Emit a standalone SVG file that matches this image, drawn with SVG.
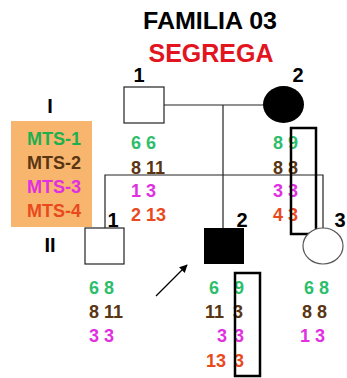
<svg xmlns="http://www.w3.org/2000/svg" width="347" height="378" viewBox="0 0 347 378">
<style>
text{font-family:"Liberation Sans",Arial,sans-serif;font-weight:bold}
.num{font-size:20px;fill:#000}
.al{font-size:18px}
.g{fill:#2DBE6C}.b{fill:#5A3512}.m{fill:#E030E0}.o{fill:#E84A1E}
.lg{fill:#1DB04E}
.ln{stroke:#222;stroke-width:1.2;fill:none}
.hl{fill:none;stroke:#000;stroke-width:2.5}
</style>
<defs>
<marker id="ah" viewBox="0 0 10 10" refX="9" refY="5" markerWidth="8" markerHeight="8" orient="auto-start-reverse" markerUnits="userSpaceOnUse">
<path d="M0,0 L10,5 L0,10 z" fill="#000"/>
</marker>
</defs>
<rect width="347" height="378" fill="#fff"/>
<g id="title">
<text x="210" y="29" text-anchor="middle" font-size="23" textLength="134" lengthAdjust="spacingAndGlyphs" fill="#000">FAMILIA 03</text>
<text x="211" y="62" text-anchor="middle" font-size="25" fill="#E2141E">SEGREGA</text>
</g>
<g id="legend">
<rect x="11" y="121" width="81" height="106" fill="#F8B56E"/>
<text x="54" y="145" text-anchor="middle" font-size="18" class="lg">MTS-1</text>
<text x="54" y="169" text-anchor="middle" font-size="18" class="b">MTS-2</text>
<text x="54" y="193" text-anchor="middle" font-size="18" class="m">MTS-3</text>
<text x="54" y="217" text-anchor="middle" font-size="18" class="o">MTS-4</text>
</g>
<g id="generations">
<text x="50" y="113" text-anchor="middle" class="num">I</text>
<text x="50" y="252" text-anchor="middle" class="num">II</text>
</g>
<g id="connectors">
<line class="ln" x1="164" y1="105" x2="263" y2="105"/>
<line class="ln" x1="223" y1="105" x2="223" y2="228"/>
<polyline class="ln" points="105,228 105,175 323,175 323,228"/>
<line x1="156" y1="296" x2="187" y2="265" stroke="#000" stroke-width="1.2" marker-end="url(#ah)"/>
</g>
<g id="I-1">
<rect x="124" y="87" width="40" height="36" fill="#fff" stroke="#222" stroke-width="1.2"/>
<text x="139" y="82" text-anchor="middle" class="num">1</text>
<text x="131" y="149" class="al g">6 6</text>
<text x="131" y="174" class="al b">8 11</text>
<text x="131" y="197" class="al m">1 3</text>
<text x="131" y="221" class="al o">2 13</text>
</g>
<g id="I-2">
<ellipse cx="283.5" cy="104.5" rx="20.5" ry="18.5" fill="#000"/>
<text x="298" y="82" text-anchor="middle" class="num">2</text>
<text x="273" y="149" class="al g">8 9</text>
<text x="273" y="174" class="al b">8 8</text>
<text x="273" y="197" class="al m">3 3</text>
<text x="273" y="221" class="al o">4 3</text>
<rect class="hl" x="291" y="128" width="25" height="106"/>
</g>
<g id="II-1">
<rect x="85" y="228" width="39" height="36" fill="#fff" stroke="#222" stroke-width="1.2"/>
<text x="113" y="227" text-anchor="middle" class="num">1</text>
<text x="89" y="294" class="al g">6 8</text>
<text x="89" y="318" class="al b">8 11</text>
<text x="89" y="342" class="al m">3 3</text>
</g>
<g id="II-2">
<rect x="204" y="228" width="40" height="36" fill="#000"/>
<text x="242" y="227" text-anchor="middle" class="num">2</text>
<text y="294" class="al g"><tspan x="209">6</tspan> <tspan x="234">9</tspan></text>
<text y="318" class="al b"><tspan x="205">11</tspan> <tspan x="233">3</tspan></text>
<text y="342" class="al m"><tspan x="217">3</tspan> <tspan x="234">3</tspan></text>
<text y="367" class="al o"><tspan x="206">13</tspan> <tspan x="234">3</tspan></text>
<rect class="hl" x="235" y="273" width="25" height="103"/>
</g>
<g id="II-3">
<ellipse cx="323" cy="246" rx="20" ry="18" fill="#fff" stroke="#555" stroke-width="1.2"/>
<text x="340" y="227" text-anchor="middle" class="num">3</text>
<text x="304" y="294" class="al g">6 8</text>
<text x="302" y="318" class="al b">8 8</text>
<text x="300" y="342" class="al m">1 3</text>
</g>
</svg>
